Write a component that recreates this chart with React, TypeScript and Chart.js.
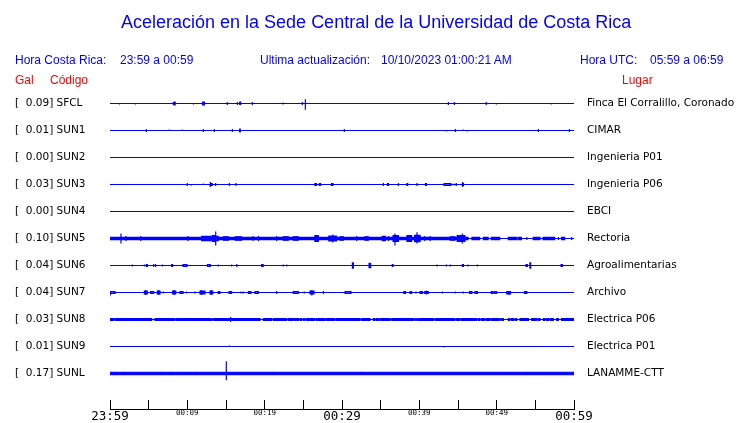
import { useEffect, useRef } from 'react';
import { Chart, registerables } from 'chart.js';

Chart.register(...registerables);

// ---- Data ----
const STATIONS = ['SFCL', 'SUN1', 'SUN2', 'SUN3', 'SUN4', 'SUN5', 'SUN6', 'SUN7', 'SUN8', 'SUN9', 'SUNL'];
const PEAK_GAL = [0.09, 0.01, 0.0, 0.03, 0.0, 0.1, 0.04, 0.04, 0.03, 0.01, 0.17];
const PLACES = [
  'Finca El Corralillo, Coronado', 'CIMAR', 'Ingenieria P01', 'Ingenieria P06', 'EBCI', 'Rectoria',
  'Agroalimentarias', 'Archivo', 'Electrica P06', 'Electrica P01', 'LANAMME-CTT',
];
// minutes since 23:59, every 5 minutes
const X_TICK_MINUTES = [0, 5, 10, 15, 20, 25, 30, 35, 40, 45, 50, 55, 60];
const X_TICK_LABELS = ['23:59', '', '00:09', '', '00:19', '', '00:29', '', '00:39', '', '00:49', '', '00:59'];

// events: [start min, end min, up Gal, down Gal]
const SFCL_EVENTS = [
  [1.21, 1.21, 0.007, 0.014], [3.28, 3.28, 0.007, 0.014], [8.19, 8.19, 0.021, 0.021], [8.3, 8.42, 0.021, 0.021],
  [10.78, 10.78, 0.007, 0.014], [11.98, 12.2, 0.021, 0.021], [15.17, 15.17, 0.021, 0.021], [16.47, 16.47, 0.021, 0.021],
  [16.77, 16.9, 0.021, 0.014], [18.4, 18.4, 0.021, 0.021], [22.37, 22.37, 0.014, 0.014], [24.87, 24.87, 0.021, 0.021],
  [25.26, 25.26, 0.06, 0.09], [43.75, 43.75, 0.021, 0.021], [44.53, 44.53, 0.021, 0.021], [48.66, 48.66, 0.021, 0.021],
  [49.96, 49.96, 0.007, 0.014], [57.07, 57.07, 0.007, 0.014],
];
const SUN1_EVENTS = [
  [4.7, 4.7, 0.021, 0.021], [7.67, 7.67, 0.014, 0.007], [9.35, 9.35, 0.014, 0.007], [12.07, 12.07, 0.021, 0.021],
  [13.49, 13.49, 0.021, 0.021], [15.82, 15.82, 0.021, 0.021], [16.77, 16.85, 0.021, 0.021], [30.3, 30.3, 0.021, 0.021],
  [43.5, 43.5, 0.007, 0.014], [44.66, 44.66, 0.021, 0.021], [45.7, 45.7, 0.014, 0.007], [46.2, 46.2, 0.007, 0.014],
  [55.4, 55.4, 0.021, 0.021], [59.4, 59.4, 0.021, 0.021],
];
const SUN2_EVENTS: number[][] = [];
const SUN3_EVENTS = [
  [10.0, 10.0, 0.021, 0.021], [10.5, 10.5, 0.007, 0.014], [12.07, 12.07, 0.014, 0.007], [12.97, 13.23, 0.014, 0.014],
  [12.97, 12.97, 0.036, 0.036], [13.66, 13.66, 0.021, 0.021], [15.43, 15.43, 0.021, 0.021], [16.29, 16.29, 0.021, 0.021],
  [26.5, 26.7, 0.014, 0.014], [27.07, 27.24, 0.014, 0.014], [28.66, 28.84, 0.014, 0.014], [35.35, 35.35, 0.021, 0.021],
  [35.9, 36.03, 0.014, 0.014], [37.3, 37.3, 0.021, 0.021], [38.4, 38.5, 0.014, 0.014], [39.7, 39.7, 0.021, 0.021],
  [40.8, 40.93, 0.014, 0.014], [43.2, 44.1, 0.014, 0.014], [44.5, 44.5, 0.014, 0.014], [44.78, 44.78, 0.021, 0.021],
  [45.56, 45.7, 0.014, 0.014], [45.6, 45.6, 0.036, 0.036],
];
const SUN4_EVENTS: number[][] = [];
const SUN5_EVENTS = [
  [1.42, 1.42, 0.07, 0.07], [2.07, 2.07, 0.036, 0.036], [3.97, 3.97, 0.036, 0.036], [10.1, 10.1, 0.036, 0.036],
  [11.85, 13.0, 0.03, 0.03], [13.2, 13.66, 0.04, 0.04], [13.66, 13.66, 0.1, 0.1], [13.7, 14.0, 0.03, 0.03],
  [14.66, 15.3, 0.025, 0.025], [16.2, 17.0, 0.025, 0.025], [18.5, 18.5, 0.036, 0.036], [19.2, 19.2, 0.036, 0.036],
  [21.55, 21.55, 0.036, 0.036], [22.4, 23.06, 0.025, 0.025], [23.7, 24.35, 0.025, 0.025], [26.5, 26.94, 0.04, 0.04],
  [28.3, 29.3, 0.035, 0.035], [28.8, 28.8, 0.057, 0.057], [29.74, 30.17, 0.025, 0.025], [31.9, 31.9, 0.036, 0.036],
  [32.97, 33.4, 0.025, 0.025], [35.2, 35.6, 0.03, 0.03], [36.0, 36.0, 0.036, 0.036], [36.6, 37.3, 0.04, 0.04],
  [36.85, 36.85, 0.07, 0.1], [38.4, 39.0, 0.04, 0.04], [39.4, 40.1, 0.045, 0.045], [39.7, 39.7, 0.09, 0.07],
  [40.7, 40.7, 0.036, 0.036], [41.4, 41.4, 0.036, 0.036], [44.0, 44.6, 0.025, 0.025], [44.9, 45.9, 0.04, 0.04],
  [45.56, 45.56, 0.07, 0.07], [53.9, 53.9, 0.021, 0.021], [58.0, 58.0, 0.021, 0.021], [59.7, 59.7, 0.021, 0.021],
];
const SUN6_EVENTS = [
  [2.89, 2.89, 0.014, 0.014], [4.44, 4.44, 0.014, 0.014], [4.7, 4.83, 0.014, 0.014], [5.65, 5.65, 0.021, 0.021],
  [5.9, 5.9, 0.021, 0.021], [6.77, 6.77, 0.014, 0.014], [7.97, 8.1, 0.014, 0.014], [9.44, 9.96, 0.014, 0.014],
  [10.65, 10.65, 0.007, 0.007], [12.6, 12.97, 0.014, 0.014], [14.0, 14.0, 0.014, 0.014], [15.73, 15.73, 0.014, 0.014],
  [16.4, 16.4, 0.021, 0.021], [19.6, 19.8, 0.014, 0.014], [22.4, 22.4, 0.014, 0.014], [22.85, 22.85, 0.014, 0.014],
  [31.34, 31.47, 0.036, 0.036], [33.5, 33.7, 0.03, 0.03], [36.5, 36.6, 0.014, 0.014], [42.3, 42.3, 0.014, 0.014],
  [43.5, 43.5, 0.014, 0.014], [44.0, 44.0, 0.014, 0.014], [45.56, 45.7, 0.014, 0.014], [46.3, 46.3, 0.014, 0.014],
  [47.5, 47.5, 0.014, 0.014], [53.8, 53.97, 0.014, 0.014], [54.3, 54.4, 0.036, 0.036], [58.33, 58.5, 0.014, 0.014],
];
const SUN7_EVENTS = [
  [0.05, 0.65, 0.014, 0.014], [4.44, 4.83, 0.021, 0.021], [4.6, 4.6, 0.036, 0.036], [5.26, 5.65, 0.014, 0.014],
  [6.12, 6.47, 0.021, 0.021], [6.3, 6.3, 0.036, 0.036], [6.9, 6.9, 0.014, 0.014], [8.1, 8.5, 0.021, 0.021],
  [8.3, 8.3, 0.036, 0.036], [9.05, 9.44, 0.014, 0.014], [9.9, 9.9, 0.014, 0.014], [11.0, 11.0, 0.014, 0.014],
  [11.64, 12.28, 0.021, 0.021], [11.8, 11.8, 0.036, 0.036], [12.93, 13.28, 0.021, 0.021], [13.1, 13.1, 0.036, 0.036],
  [14.0, 14.2, 0.014, 0.014], [15.4, 15.73, 0.014, 0.014], [16.94, 16.94, 0.014, 0.014], [17.24, 17.24, 0.014, 0.014],
  [17.9, 18.23, 0.014, 0.014], [18.75, 19.18, 0.014, 0.014], [21.55, 21.55, 0.021, 0.021], [23.7, 24.35, 0.014, 0.014],
  [25.13, 25.13, 0.014, 0.014], [25.86, 26.38, 0.021, 0.021], [26.1, 26.1, 0.036, 0.043], [27.6, 27.6, 0.021, 0.021],
  [30.4, 31.16, 0.014, 0.014], [38.0, 38.2, 0.014, 0.014], [38.8, 39.0, 0.014, 0.014], [39.57, 39.57, 0.014, 0.014],
  [40.1, 40.4, 0.014, 0.014], [40.7, 41.16, 0.014, 0.014], [40.9, 40.9, 0.029, 0.029], [42.98, 42.98, 0.014, 0.014],
  [44.66, 44.66, 0.014, 0.014], [45.7, 45.7, 0.014, 0.014], [46.5, 46.8, 0.014, 0.014], [47.2, 47.5, 0.014, 0.014],
  [49.3, 49.5, 0.014, 0.014], [49.7, 50.0, 0.014, 0.014], [51.3, 51.8, 0.014, 0.021], [51.6, 51.6, 0.021, 0.036],
  [53.6, 53.9, 0.014, 0.014],
];
const SUN8_EVENTS = [[15.6, 15.6, 0.036, 0.036]];
const SUN9_EVENTS = [[15.43, 15.43, 0.014, 0], [43.2, 43.2, 0, 0.014]];
const SUNL_EVENTS = [[15.04, 15.04, 0.175, 0.095]];

// continuous background noise: half amplitude (Gal) and intervals [start min, end min]
const SUN5_NOISE_GAL = 0.016;
const SUN5_NOISE = [
  [0, 46.3], [46.8, 47.8], [48.3, 48.9], [49.3, 50.4], [51.5, 52.6], [52.8, 53.2], [54.74, 55.6], [56.0, 57.5], [58.4, 58.8],
];
const SUN8_NOISE_GAL = 0.014;
const SUN8_NOISE = [
  [0, 0.52], [0.73, 5.39], [5.82, 8.41], [8.62, 13.15], [13.36, 19.4], [19.83, 20.9], [21.12, 22.84], [23.06, 23.7],
  [23.9, 24.35], [24.57, 24.78], [25.0, 25.2], [25.43, 26.5], [26.72, 27.8], [28.0, 29.1], [29.3, 32.33], [32.54, 33.62],
  [34.05, 34.27], [34.48, 34.7], [34.91, 36.2], [36.42, 39.22], [39.44, 39.66], [39.87, 41.16], [41.29, 41.81],
  [42.03, 44.61], [44.83, 45.26], [45.47, 47.41], [47.63, 47.84], [48.06, 48.49], [48.71, 49.14], [49.35, 50.43],
  [50.65, 50.86], [51.51, 51.72], [51.94, 52.16], [52.37, 52.59], [53.02, 54.1], [54.53, 55.17], [55.39, 55.6],
  [56.03, 56.25], [56.47, 56.68], [56.9, 57.33], [57.76, 57.97], [58.4, 59.91],
];
const SUNL_NOISE_GAL = 0.018;
const SUNL_NOISE = [
  [0, 0.6], [0.72, 1.65], [1.8, 4.05], [4.2, 6.55], [6.7, 7.85], [8.0, 10.15], [10.3, 11.05], [11.2, 20.85],
  [21.0, 32.45], [32.6, 36.75], [36.9, 46.75], [46.9, 51.25], [51.4, 53.85], [54.0, 60],
];

const EVENTS = [
  SFCL_EVENTS, SUN1_EVENTS, SUN2_EVENTS, SUN3_EVENTS, SUN4_EVENTS, SUN5_EVENTS,
  SUN6_EVENTS, SUN7_EVENTS, SUN8_EVENTS, SUN9_EVENTS, SUNL_EVENTS,
];
const NOISE: Record<number, { amp: number; spans: number[][] }> = {
  5: { amp: SUN5_NOISE_GAL, spans: SUN5_NOISE },
  8: { amp: SUN8_NOISE_GAL, spans: SUN8_NOISE },
  10: { amp: SUNL_NOISE_GAL, spans: SUNL_NOISE },
};

const ROWS_PER_GAL = 2.6; // display gain
const BLUE = '#0000ff';

const baseOf = (i: number) => STATIONS.length - 1 - i;

// one half (above: sign=1, below: sign=-1) of a trace, filled against its baseline
function halfTrace(b: number, items: number[][], sign: number) {
  const sorted = [...items].sort((p, q) => p[0] - q[0]);
  const pts: { x: number; y: number }[] = [{ x: 0, y: b }];
  for (const [s, e, up, dn] of sorted) {
    const y = b + sign * (sign > 0 ? up : dn) * ROWS_PER_GAL;
    pts.push({ x: s, y: b }, { x: s, y }, { x: e, y }, { x: e, y: b });
  }
  pts.push({ x: 60, y: b });
  return pts;
}

const textStyle = (left: number, top: number, size: number, color: string): any => ({
  position: 'absolute', left, top, fontSize: size, lineHeight: `${size + 2}px`, color,
  fontFamily: '"Liberation Sans", Arial, sans-serif', whiteSpace: 'nowrap', margin: 0,
});

export default function App() {
  const ref = useRef<HTMLCanvasElement>(null);
  useEffect(() => {
    if (!ref.current) return;
    const datasets: any[] = [];
    const mk = (data: any[], b: number) => ({
      data, borderColor: BLUE, backgroundColor: BLUE, borderWidth: 1.2, pointRadius: 0,
      fill: { value: b }, tension: 0, spanGaps: false,
    });
    STATIONS.forEach((_, i) => {
      const b = baseOf(i);
      const nz = NOISE[i];
      if (nz) {
        const items = nz.spans.map(([s, e]) => [s, e, nz.amp, nz.amp]);
        datasets.push(mk(halfTrace(b, items, 1), b), mk(halfTrace(b, items, -1), b));
      }
      datasets.push(mk(halfTrace(b, EVENTS[i], 1), b), mk(halfTrace(b, EVENTS[i], -1), b));
    });
    const yTicks = (s: any) => { s.ticks = STATIONS.map((_, i) => ({ value: baseOf(i) })); };
    const noPad = (s: any) => { s.paddingTop = 0; s.paddingBottom = 0; };
    const idxOf = (v: number) => STATIONS.length - 1 - Math.round(v);
    const chart = new Chart(ref.current, {
      type: 'line',
      data: { datasets },
      options: {
        animation: false,
        responsive: false,
        events: [],
        layout: { padding: { top: 87.3, left: 15, right: 0, bottom: 0 } },
        plugins: { legend: { display: false }, tooltip: { enabled: false }, title: { display: false } },
        scales: {
          x: {
            type: 'linear', position: 'bottom', min: 0, max: 60,
            afterBuildTicks: (s: any) => { s.ticks = X_TICK_MINUTES.map((v) => ({ value: v })); },
            ticks: {
              autoSkip: false, maxRotation: 0, padding: 9, color: '#000',
              callback: (_v: any, k: number) => X_TICK_LABELS[k],
              font: (ctx: any) => (ctx.index % 6 === 0
                ? { family: '"DejaVu Sans Mono", monospace', size: 12.5 }
                : { family: '"DejaVu Sans Mono", monospace', size: 7.5 }),
            },
            grid: { display: true, drawOnChartArea: false, drawTicks: true, tickLength: -9, color: '#000', lineWidth: 1 },
            border: { display: true, color: '#000', width: 1 },
            afterFit: (s: any) => { s.height = 14; s.paddingLeft = 0; s.paddingRight = 0; },
          },
          y: {
            type: 'linear', position: 'left', min: -1.3148, max: 10.6,
            afterBuildTicks: yTicks,
            ticks: {
              autoSkip: false, crossAlign: 'far', color: '#000',
              font: { family: '"DejaVu Sans", sans-serif', size: 10.5 },
              callback: (v: any) => { const i = idxOf(v); return `[  ${PEAK_GAL[i].toFixed(2)}] ${STATIONS[i]}`; },
            },
            grid: { display: false, drawTicks: false }, border: { display: false },
            afterFit: (s: any) => { s.width = 95; noPad(s); },
          },
          y2: {
            type: 'linear', position: 'right', min: -1.3148, max: 10.6,
            afterBuildTicks: yTicks,
            ticks: {
              autoSkip: false, padding: 13, color: '#000',
              font: { family: '"DejaVu Sans", sans-serif', size: 10.5 },
              callback: (v: any) => PLACES[idxOf(v)],
            },
            grid: { display: false, drawTicks: false }, border: { display: false },
            afterFit: (s: any) => { s.width = 166; noPad(s); },
          },
        },
      } as any,
    });
    return () => chart.destroy();
  }, []);

  return (
    <div style={{ position: 'fixed', left: 0, top: 0, width: 740, height: 423, background: '#fff' }}>
      <canvas ref={ref} width={740} height={423} style={{ position: 'absolute', left: 0, top: 0, width: 740, height: 423 }} />
      <div style={textStyle(121, 12, 18, BLUE)}>Aceleración en la Sede Central de la Universidad de Costa Rica</div>
      <div style={textStyle(15, 53, 12, BLUE)}>Hora Costa Rica:</div>
      <div style={textStyle(120, 53, 12, BLUE)}>23:59 a 00:59</div>
      <div style={textStyle(260, 53, 12, BLUE)}>Ultima actualización:</div>
      <div style={textStyle(381, 53, 12, BLUE)}>10/10/2023 01:00:21 AM</div>
      <div style={textStyle(580, 53, 12, BLUE)}>Hora UTC:</div>
      <div style={textStyle(650, 53, 12, BLUE)}>05:59 a 06:59</div>
      <div style={textStyle(15, 73, 12, '#ff0000')}>Gal</div>
      <div style={textStyle(50, 73, 12, '#ff0000')}>Código</div>
      <div style={textStyle(622, 73, 12, '#ff0000')}>Lugar</div>
    </div>
  );
}
